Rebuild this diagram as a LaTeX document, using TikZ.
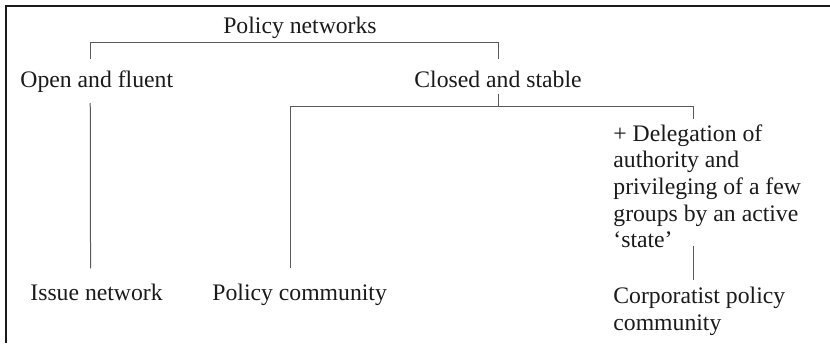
\documentclass[tikz,border=0pt]{standalone}
\usepackage{fontspec}
\setmainfont{Liberation Serif}
\usepackage{xcolor}
\usepackage{tikz}
\usetikzlibrary{positioning}
\definecolor{ink}{HTML}{1A1A1A}
\definecolor{rule}{HTML}{5A5A5A}
\tikzset{
  lbl/.style={inner xsep=0pt, inner ysep=5.4pt, anchor=base west, text=ink},
  blk/.style={lbl, inner ysep=2.5pt, anchor=north west, align=left},
  link/.style={draw=rule, line width=0.5pt},
  frame/.style={draw=ink, line width=1pt}
}

\begin{document}
\begin{tikzpicture}[x=0.5pt, y=-0.5pt, font=\fontsize{11.85}{13.35}\selectfont]
  \useasboundingbox (0,0) rectangle (830,343);
  \draw[frame] (6,343) |- (830,6);
  \node[lbl, anchor=base] (title) at (300,33) {Policy networks};
  \node[lbl] (open) at (20,87) {Open and fluent};
  \node[lbl, anchor=base] (closed) at (498,87) {Closed and stable};
  \node[lbl] (issue) at (30,300) {Issue network};
  \node[lbl] (polcom) at (212,300) {Policy community};
  \node[blk] (deleg) at (613,119) {+ Delegation of\\authority and\\privileging of a few\\groups by an active\\`state'};
  \node[blk, below=14pt of deleg.south west, anchor=north west] (corp) {Corporatist policy\\community};
  \draw[link] ([xshift=-3.25pt]open.north) -- ++(0,-17) -| (closed.north);
  \draw[link] ([xshift=-3.25pt]open.south) -- ([xshift=-3pt, yshift=2pt]issue.north);
  \draw[link] ([yshift=2.4pt]closed.south) -- ++(0,13) coordinate (fork);
  \draw[link] ([xshift=-4.5pt, yshift=2pt]polcom.north) |- (fork) -| ([xshift=40pt]deleg.north west);
  \draw[link] ([xshift=40pt, yshift=4pt]deleg.south west) -- ([xshift=40pt, yshift=1pt]corp.north west);
\end{tikzpicture}
\end{document}
